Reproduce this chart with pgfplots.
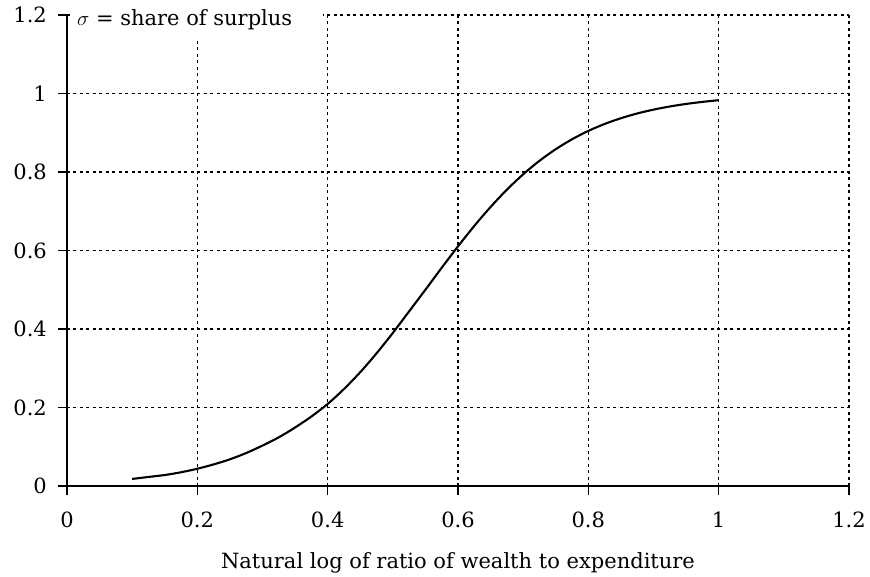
\documentclass[border=0pt]{standalone}
\usepackage{pgfplots}
\pgfplotsset{compat=1.18}
\usepackage{fontspec}
\setmainfont{DejaVu Serif}
\begin{document}
\fontsize{21bp}{25bp}\selectfont
\begin{tikzpicture}
\begin{axis}[
  scale only axis,
  width=782bp, height=471bp,
  xmin=0, xmax=1.2, ymin=0, ymax=1.2,
  axis lines=left,
  axis line style={-, line width=1.8bp},
  xtick={0,0.2,0.4,0.6,0.8,1,1.2},
  ytick={0,0.2,0.4,0.6,0.8,1,1.2},
  xticklabels={0,0.2,0.4,0.6,0.8,1,1.2},
  yticklabels={0,0.2,0.4,0.6,0.8,1,1.2},
  tick align=outside,
  major tick length=9bp,
  tick style={line width=1.6bp, black},
  grid=major,
  major grid style={black, line width=1.6bp, dash pattern=on 3bp off 3.5bp},
  /pgf/number format/assume math mode=true,
  ticklabel style={font=\fontsize{21bp}{25bp}\selectfont, inner sep=0pt},
  xticklabel style={anchor=north, yshift=-17bp},
  yticklabel style={anchor=east, xshift=-11bp},
  xlabel={Natural log of ratio of wealth to expenditure},
  xlabel style={font=\fontsize{21bp}{25bp}\selectfont, at={(axis description cs:0.5,0)}, anchor=base, inner sep=0pt, yshift=-82bp},
  clip=false,
]
\addplot[black, line width=2.1bp, smooth] coordinates {
(0.1,0.018) (0.125,0.023) (0.15,0.028) (0.175,0.035) (0.2,0.044)
(0.225,0.055) (0.25,0.068) (0.275,0.084) (0.3,0.103) (0.325,0.124)
(0.35,0.149) (0.375,0.177) (0.4,0.209) (0.425,0.247) (0.45,0.290)
(0.475,0.338) (0.5,0.390) (0.525,0.445) (0.55,0.500) (0.575,0.556)
(0.6,0.6106) (0.625,0.6626) (0.65,0.7109) (0.675,0.7549) (0.7,0.7941)
(0.725,0.8285) (0.75,0.8581) (0.775,0.8834) (0.8,0.9047) (0.825,0.9224)
(0.85,0.9370) (0.875,0.9491) (0.9,0.9589) (0.925,0.9669) (0.95,0.9734)
(0.975,0.9786) (1.0,0.9829)
};
\fill[white] (axis cs:0.004,1.25) rectangle (axis cs:0.393,1.141);
\node[anchor=base west, inner sep=0pt, xshift=10bp, font=\fontsize{21bp}{25bp}\selectfont] at (axis cs:0,1.1745) {$\sigma$ = share of surplus};
\coordinate (bl) at (rel axis cs:0,0);
\coordinate (tr) at (rel axis cs:1,1);
\end{axis}
\pgfresetboundingbox
\path[use as bounding box] ([shift={(-67bp,-91bp)}]bl) rectangle ([shift={(21bp,15bp)}]tr);
\end{tikzpicture}
\end{document}
